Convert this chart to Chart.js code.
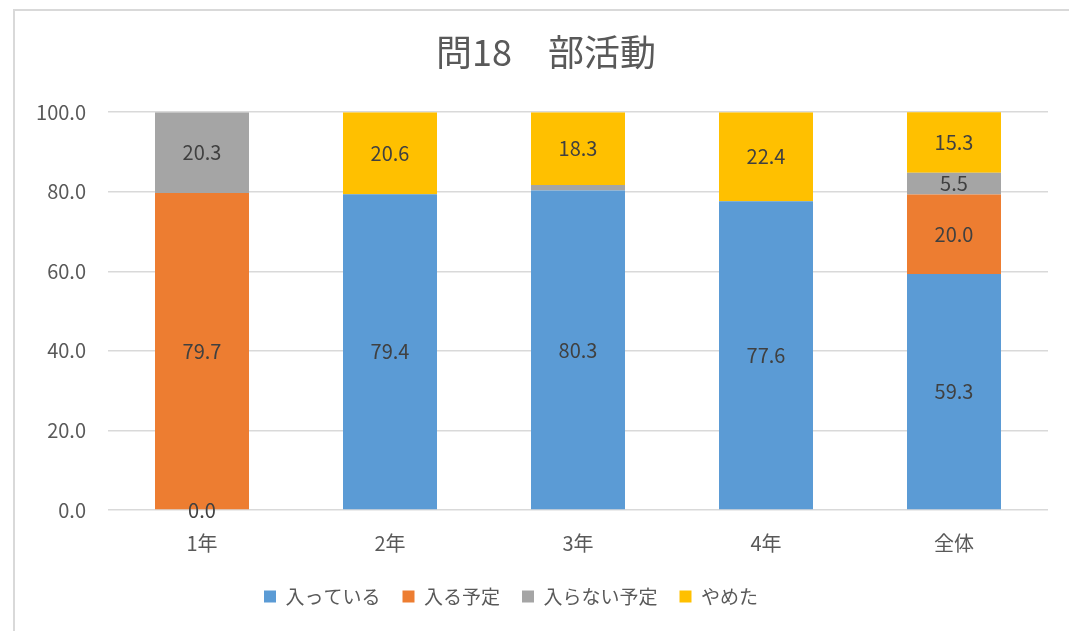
<!DOCTYPE html>
<html>
<head>
<meta charset="utf-8">
<script src="https://cdn.jsdelivr.net/npm/chart.js@4"></script>
<style>
    html, body { margin: 0; padding: 0; background: #fff; }
    #wrap { width: 1069px; height: 631px; position: relative; }
</style>
</head>
<body>
<div id="wrap"><canvas id="bukatsu" width="1069" height="631"></canvas></div>
<script>
const categories = ['1年', '2年', '3年', '4年', '全体'];
const seriesNames = ['入っている', '入る予定', '入らない予定', 'やめた'];
const seriesColors = ['#5B9BD5', '#ED7D31', '#A5A5A5', '#FFC000'];

// values (null = no segment)
const haitteiru = [0.0, 79.4, 80.3, 77.6, 59.3];
const hairuYotei = [79.7, null, null, null, 20.0];
const hairanai = [20.3, null, 1.4, null, 5.5];
const yameta = [null, 20.6, 18.3, 22.4, 15.3];

const yTicks = [0, 20, 40, 60, 80, 100];

const fontFamily = '"Noto Sans CJK JP", "Noto Sans", sans-serif';

// frame around the chart (cut off at right / bottom like the screenshot)
const framePlugin = {
    id: 'frame',
    beforeDraw(chart) {
        const ctx = chart.ctx;
        ctx.save();
        ctx.strokeStyle = '#d9d9d9';
        ctx.lineWidth = 2;
        ctx.beginPath();
        ctx.moveTo(14, 640);
        ctx.lineTo(14, 10);
        ctx.lineTo(1080, 10);
        ctx.stroke();
        ctx.restore();
    }
};

// Excel puts the title a bit right and the legend a bit left of centre
const nudgeBoxes = {
    id: 'nudgeBoxes',
    afterLayout(chart) {
        if (chart.titleBlock) {
            chart.titleBlock.left += 15;
            chart.titleBlock.right += 15;
        }
        if (chart.legend) {
            chart.legend.left -= 20;
            chart.legend.right -= 20;
        }
    }
};

// value labels in the middle of each segment
const valueLabels = {
    id: 'valueLabels',
    afterDatasetsDraw(chart) {
        const ctx = chart.ctx;
        ctx.save();
        ctx.font = '20px ' + fontFamily;
        ctx.fillStyle = '#404040';
        ctx.textAlign = 'center';
        ctx.textBaseline = 'middle';
        chart.data.datasets.forEach((ds, i) => {
            const meta = chart.getDatasetMeta(i);
            meta.data.forEach((bar, j) => {
                const v = ds.data[j];
                if (v === null || (v !== 0 && v < 3)) return;
                const y = (bar.y + bar.base) / 2;
                ctx.fillText(v.toFixed(1), bar.x, y);
            });
        });
        ctx.restore();
    }
};

const allSeries = [haitteiru, hairuYotei, hairanai, yameta];

new Chart(document.getElementById('bukatsu'), {
    type: 'bar',
    data: {
        labels: categories,
        datasets: allSeries.map((data, i) => ({
            label: seriesNames[i],
            data,
            backgroundColor: seriesColors[i],
            categoryPercentage: 1,
            barPercentage: 0.5,
        }))
    },
    options: {
        responsive: false,
        animation: false,
        devicePixelRatio: 1,
        layout: { padding: { left: 14, right: 21, top: 0, bottom: 15 } },
        plugins: {
            title: {
                display: true,
                text: '問18　部活動',
                color: '#595959',
                font: { family: fontFamily, size: 36, weight: 'normal' },
                padding: { top: 31, bottom: 38 }
            },
            legend: {
                position: 'bottom',
                labels: {
                    color: '#595959',
                    font: { family: fontFamily, size: 19 },
                    boxWidth: 12,
                    boxHeight: 12,
                    padding: 22
                }
            },
            tooltip: { enabled: false }
        },
        scales: {
            x: {
                stacked: true,
                grid: { display: false },
                border: { display: false },
                afterFit(scale) { scale.height = 55; },
                ticks: {
                    color: '#595959',
                    font: { family: fontFamily, size: 20 },
                    padding: 13
                }
            },
            y: {
                stacked: true,
                min: 0,
                max: 100,
                afterBuildTicks(scale) {
                    scale.ticks = yTicks.map(v => ({ value: v }));
                },
                afterFit(scale) { scale.width = 94; },
                grid: { color: '#d9d9d9', lineWidth: 1.5, drawTicks: false },
                border: { display: false },
                ticks: {
                    color: '#595959',
                    font: { family: fontFamily, size: 20 },
                    padding: 22,
                    callback: v => v.toFixed(1)
                }
            }
        }
    },
    plugins: [framePlugin, nudgeBoxes, valueLabels]
});
</script>
</body>
</html>
